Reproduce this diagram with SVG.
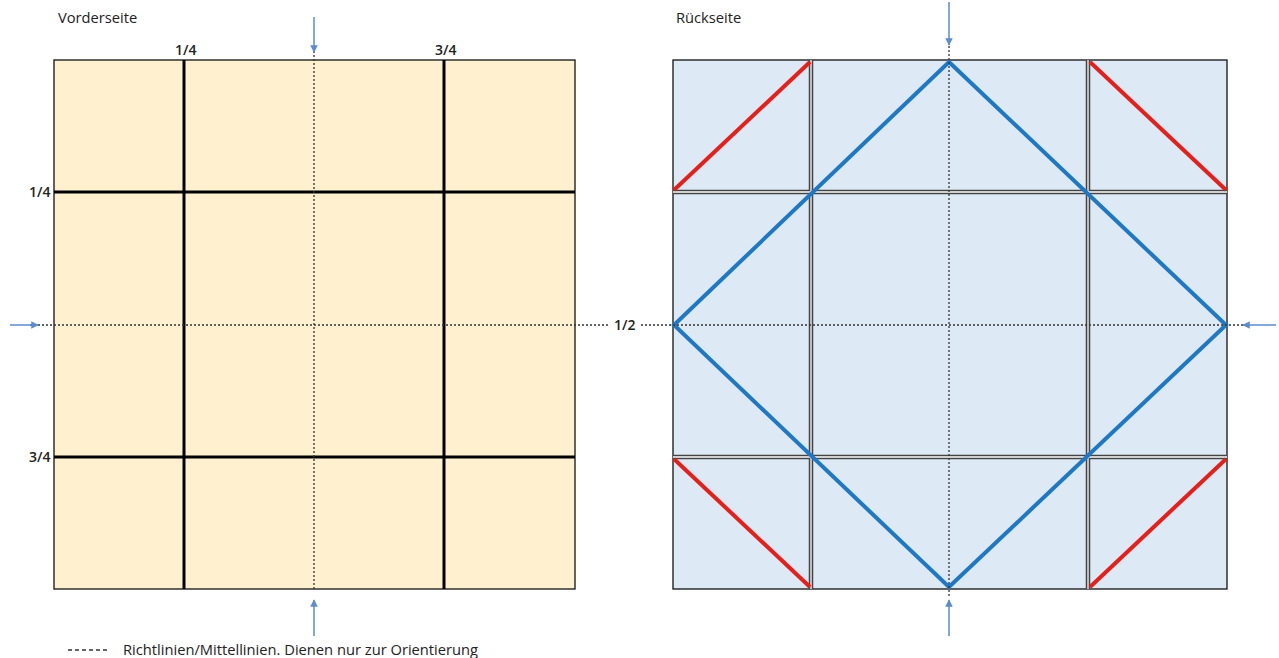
<svg xmlns="http://www.w3.org/2000/svg" width="1279" height="658" viewBox="0 0 1279 658">
<defs>
<style>
text{font-family:"Open Sans","Liberation Sans",sans-serif;fill:#222;font-size:14.7px}
.lbl{font-size:14px;font-weight:600}
.dot{stroke:#333;stroke-width:1.3;stroke-dasharray:2,2;fill:none}
.leg{stroke:#333;stroke-width:1.3;stroke-dasharray:4,3;fill:none}
.arr{stroke:#5b8bd0;stroke-width:1.5;fill:none;marker-end:url(#ah)}
.grid{stroke:#000;stroke-width:3}
.dbl{stroke:#444;stroke-width:4.5}
.dblin{stroke:#fff;stroke-width:1.3}
.blue{stroke:#1f78c4;stroke-width:4;fill:none;stroke-linejoin:miter}
.red{stroke:#e5201b;stroke-width:4}
</style>
<marker id="ah" viewBox="0 0 10 10" refX="9" refY="5" markerWidth="5" markerHeight="5" orient="auto"><path d="M0,0L10,5L0,10z" fill="#5b8bd0"/></marker>
</defs>
<rect width="1279" height="658" fill="#fff"/>
<g id="front">
<text x="58" y="23">Vorderseite</text>
<rect x="54" y="60" width="521" height="529" fill="#fff0cf" stroke="#111" stroke-width="1.3"/>
<line class="grid" x1="184" y1="60" x2="184" y2="589"/>
<line class="grid" x1="444" y1="60" x2="444" y2="589"/>
<line class="grid" x1="54" y1="192" x2="575" y2="192"/>
<line class="grid" x1="54" y1="457" x2="575" y2="457"/>
<text class="lbl" x="175" y="55">1/4</text>
<text class="lbl" x="435" y="55">3/4</text>
<text class="lbl" x="29" y="197">1/4</text>
<text class="lbl" x="29" y="462">3/4</text>
</g>
<g id="back">
<text x="676" y="23">Rückseite</text>
<rect x="673" y="60" width="554" height="529" fill="#ddeaf6" stroke="#111" stroke-width="1.3"/>
<line class="dbl" x1="811" y1="60" x2="811" y2="589"/>
<line class="dbl" x1="1088" y1="60" x2="1088" y2="589"/>
<line class="dbl" x1="673" y1="192" x2="1227" y2="192"/>
<line class="dbl" x1="673" y1="457" x2="1227" y2="457"/>
<line class="dblin" x1="811" y1="60" x2="811" y2="589"/>
<line class="dblin" x1="1088" y1="60" x2="1088" y2="589"/>
<line class="dblin" x1="673" y1="192" x2="1227" y2="192"/>
<line class="dblin" x1="673" y1="457" x2="1227" y2="457"/>
<polygon class="blue" points="949,62 1226,325 949,587 674,325"/>
<line class="red" x1="674" y1="190" x2="810" y2="62"/>
<line class="red" x1="1090" y1="62" x2="1226" y2="190"/>
<line class="red" x1="674" y1="459" x2="810" y2="587"/>
<line class="red" x1="1090" y1="587" x2="1226" y2="459"/>
<text class="lbl" x="614" y="330">1/2</text>
</g>
<g id="connectors">
<line class="dot" x1="314" y1="47" x2="314" y2="590"/>
<line class="dot" x1="949" y1="38" x2="949" y2="598"/>
<line class="dot" x1="30" y1="325" x2="609" y2="325"/>
<line class="dot" x1="641" y1="325" x2="1245" y2="325"/>
<line class="arr" x1="314" y1="17" x2="314" y2="52"/>
<line class="arr" x1="314" y1="636" x2="314" y2="600"/>
<line class="arr" x1="949" y1="2" x2="949" y2="45"/>
<line class="arr" x1="949" y1="636" x2="949" y2="600"/>
<line class="arr" x1="10" y1="325" x2="38" y2="325"/>
<line class="arr" x1="1276" y1="325" x2="1243" y2="325"/>
</g>
<g id="legend">
<line class="leg" x1="68" y1="650" x2="108" y2="650"/>
<text x="123" y="655">Richtlinien/Mittellinien. Dienen nur zur Orientierung</text>
</g>
</svg>
